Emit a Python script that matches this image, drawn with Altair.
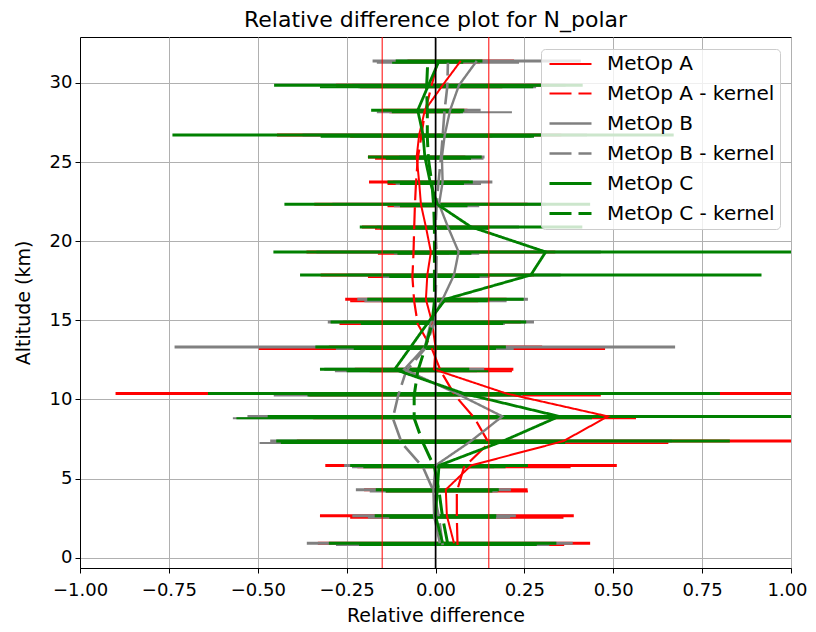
import altair as alt
import pandas as pd

# Altitude levels (km) of the retrieval profiles
alt_km = [0.92, 2.65, 4.30, 5.83, 7.37, 8.93, 10.37, 11.90, 13.31, 14.89, 16.33,
          17.86, 19.32, 20.90, 22.33, 23.74, 25.32, 26.71, 28.27, 29.85, 31.39]
# Kernel-smoothed profiles are plotted at slightly shifted altitudes
k_alt = [0.80, 2.53, 4.18, 5.71, 7.25, 8.81, 10.25, 11.78, 13.19, 14.77, 16.21,
         17.74, 19.20, 20.78, 22.21, 23.62, 25.20, 26.59, 28.15, 29.73, 31.27]

# MetOp A
a_val = [0.052, 0.032, 0.029, 0.10, 0.36, 0.485, 0.20, -0.004, 0.0, -0.01, -0.027,
         -0.023, -0.013, -0.027, -0.041, -0.046, -0.053, -0.046, -0.03, 0.02, 0.071]
a_err = [0.383, 0.357, 0.23, 0.41, 0.75, 0.9, 1.1, 0.223, 0.3, 0.25, 0.227,
         0.3, 0.35, 0.18, 0.3, 0.141, 0.137, 0.4, 0.12, 0.3, 0.15]
ak_val = [0.062, 0.06, 0.06, 0.08, 0.15, 0.11, 0.055, 0.015, -0.01, -0.05, -0.06,
          -0.065, -0.062, -0.06, -0.058, -0.055, -0.05, -0.04, -0.03, -0.012, 0.005]
ak_err = [0.3, 0.3, 0.2, 0.3, 0.505, 0.454, 0.41, 0.2, 0.487, 0.22, 0.18,
          0.125, 0.1, 0.11, 0.077, 0.08, 0.12, 0.2, 0.1, 0.2, 0.12]

# MetOp B
b_val = [0.012, -0.004, -0.006, 0.0, 0.10, 0.188, 0.06, -0.088, -0.03, -0.013, 0.02,
         0.052, 0.065, 0.035, 0.01, 0.02, 0.018, 0.026, 0.041, 0.066, 0.116]
b_err = [0.374, 0.23, 0.218, 0.257, 0.565, 0.717, 0.5, 0.225, 0.704, 0.29, 0.24,
         0.3, 0.4, 0.2, 0.3, 0.14, 0.12, 0.4, 0.086, 0.3, 0.293]
bk_val = [0.02, 0.01, -0.005, -0.035, -0.095, -0.12, -0.105, -0.083, -0.03, -0.005, 0.0,
          0.002, 0.003, 0.0, 0.003, 0.008, 0.015, 0.02, 0.025, 0.033, 0.035]
bk_err = [0.3, 0.2, 0.18, 0.2, 0.4, 0.45, 0.35, 0.2, 0.25, 0.2, 0.2,
          0.15, 0.12, 0.15, 0.12, 0.12, 0.12, 0.25, 0.19, 0.25, 0.2]

# MetOp C
c_val = [0.02, 0.0, 0.005, 0.01, 0.19, 0.348, 0.08, -0.115, -0.07, -0.02, 0.028,
         0.268, 0.31, 0.1, 0.005, -0.015, -0.03, -0.035, -0.05, -0.02, 0.01]
c_err = [0.32, 0.171, 0.173, 0.25, 0.638, 0.82, 0.72, 0.21, 0.268, 0.275, 0.22,
         0.649, 0.766, 0.313, 0.43, 0.12, 0.16, 0.705, 0.131, 0.434, 0.122]
ck_val = [0.035, 0.02, 0.01, -0.003, -0.035, -0.06, -0.06, -0.05, -0.03, -0.01, -0.003,
          -0.003, -0.003, -0.003, -0.005, -0.01, -0.02, -0.023, -0.023, -0.025, -0.022]
ck_err = [0.25, 0.15, 0.15, 0.2, 0.4, 0.5, 0.3, 0.2, 0.2, 0.2, 0.15,
          0.127, 0.104, 0.152, 0.095, 0.09, 0.12, 0.3, 0.1, 0.3, 0.1]

SERIES = ["MetOp A", "MetOp A - kernel", "MetOp B", "MetOp B - kernel",
          "MetOp C", "MetOp C - kernel"]
COLORS = ["#ff0000", "#ff0000", "#808080", "#808080", "#008000", "#008000"]
DASHES = [[1, 0], [22, 7], [1, 0], [22, 7], [1, 0], [22, 7]]
WIDTHS = [2, 3, 2, 3, 2, 3]

# threshold lines
thr_x = [-0.15, 0.15]
zero_x = [0.0]

x_ticks = [-1.0, -0.75, -0.5, -0.25, 0.0, 0.25, 0.5, 0.75, 1.0]
y_ticks = [0, 5, 10, 15, 20, 25, 30]

profiles = [
    (SERIES[0], alt_km, a_val, a_err),
    (SERIES[1], k_alt, ak_val, ak_err),
    (SERIES[2], alt_km, b_val, b_err),
    (SERIES[3], k_alt, bk_val, bk_err),
    (SERIES[4], alt_km, c_val, c_err),
    (SERIES[5], k_alt, ck_val, ck_err),
]

xscale = alt.Scale(domain=[-1, 1], nice=False, zero=False)
yscale = alt.Scale(domain=[-0.65, 32.9], nice=False, zero=False)
xaxis = alt.Axis(values=x_ticks, format=".2f", title="Relative difference",
                 grid=True, tickSize=5, labelPadding=8, titlePadding=7,
                 labelFlush=False,
                 labelOffset={"condition": {"test": "datum.value >= 1", "value": -4},
                              "value": 0})
yaxis = alt.Axis(values=y_ticks, format="d", title="Altitude (km)",
                 grid=True, tickSize=5, labelPadding=3, titlePadding=16,
                 labelFlush=False)

layers = []
line_rows = []
for i, (name, ys, vs, es) in enumerate(profiles):
    bdf = pd.DataFrame({
        "alt": ys,
        "lo": [v - e for v, e in zip(vs, es)],
        "hi": [v + e for v, e in zip(vs, es)],
    })
    is_kernel = "kernel" in name
    layers.append(
        alt.Chart(bdf).mark_rule(clip=True, color=COLORS[i],
                                 strokeWidth=2 if is_kernel else 3)
        .encode(x=alt.X("lo:Q", scale=xscale, axis=xaxis),
                x2="hi:Q",
                y=alt.Y("alt:Q", scale=yscale, axis=yaxis))
    )
    for j, (y, v) in enumerate(zip(ys, vs)):
        line_rows.append({"series": name, "alt": y, "val": v, "idx": j})

lines_df = pd.DataFrame(line_rows)
lines = alt.Chart(lines_df).mark_line(clip=True).encode(
    x=alt.X("val:Q", scale=xscale, axis=xaxis),
    y=alt.Y("alt:Q", scale=yscale, axis=yaxis),
    color=alt.Color("series:N", scale=alt.Scale(domain=SERIES, range=COLORS),
                    legend=alt.Legend(title=None)),
    strokeDash=alt.StrokeDash("series:N", scale=alt.Scale(domain=SERIES, range=DASHES),
                              legend=alt.Legend(title=None)),
    strokeWidth=alt.StrokeWidth("series:N", scale=alt.Scale(domain=SERIES, range=WIDTHS),
                                legend=alt.Legend(title=None)),
    order=alt.Order("idx:Q"),
)
layers.append(lines)

thr = alt.Chart(pd.DataFrame({"x": thr_x})).mark_rule(color="#ff0000", strokeWidth=1).encode(
    x=alt.X("x:Q", scale=xscale, axis=xaxis))
zero = alt.Chart(pd.DataFrame({"x": zero_x})).mark_rule(color="black", strokeWidth=1.5).encode(
    x=alt.X("x:Q", scale=xscale, axis=xaxis))
layers += [thr, zero]

chart = alt.layer(*layers).properties(
    width=711, height=531,
    autosize=alt.AutoSizeParams(type="none"),
    padding={"left": 72, "top": 29, "right": 17, "bottom": 56},
    title=alt.TitleParams("Relative difference plot for N_polar", fontSize=22,
                          font="DejaVu Sans", fontWeight="normal", color="black",
                          offset=4),
).configure_view(
    stroke="black", strokeWidth=1
).configure_axis(
    labelFont="DejaVu Sans", labelFontSize=18, labelColor="black",
    titleFont="DejaVu Sans", titleFontSize=19, titleFontWeight="normal", titleColor="black",
    tickColor="black", domainColor="black", gridColor="#b0b0b0", gridWidth=1,
).configure_legend(
    orient="none", legendX=461, legendY=12,
    fillColor="rgba(255,255,255,0.8)", strokeColor="#cccccc", cornerRadius=4,
    padding=5, labelFont="DejaVu Sans", labelFontSize=20, labelColor="black",
    labelLimit=300,
    symbolType="M-0.778,0H3.889", symbolSize=324, rowPadding=9, labelOffset=40,
)

chart.save("out.html", embed_options={"renderer": "svg", "actions": False})
